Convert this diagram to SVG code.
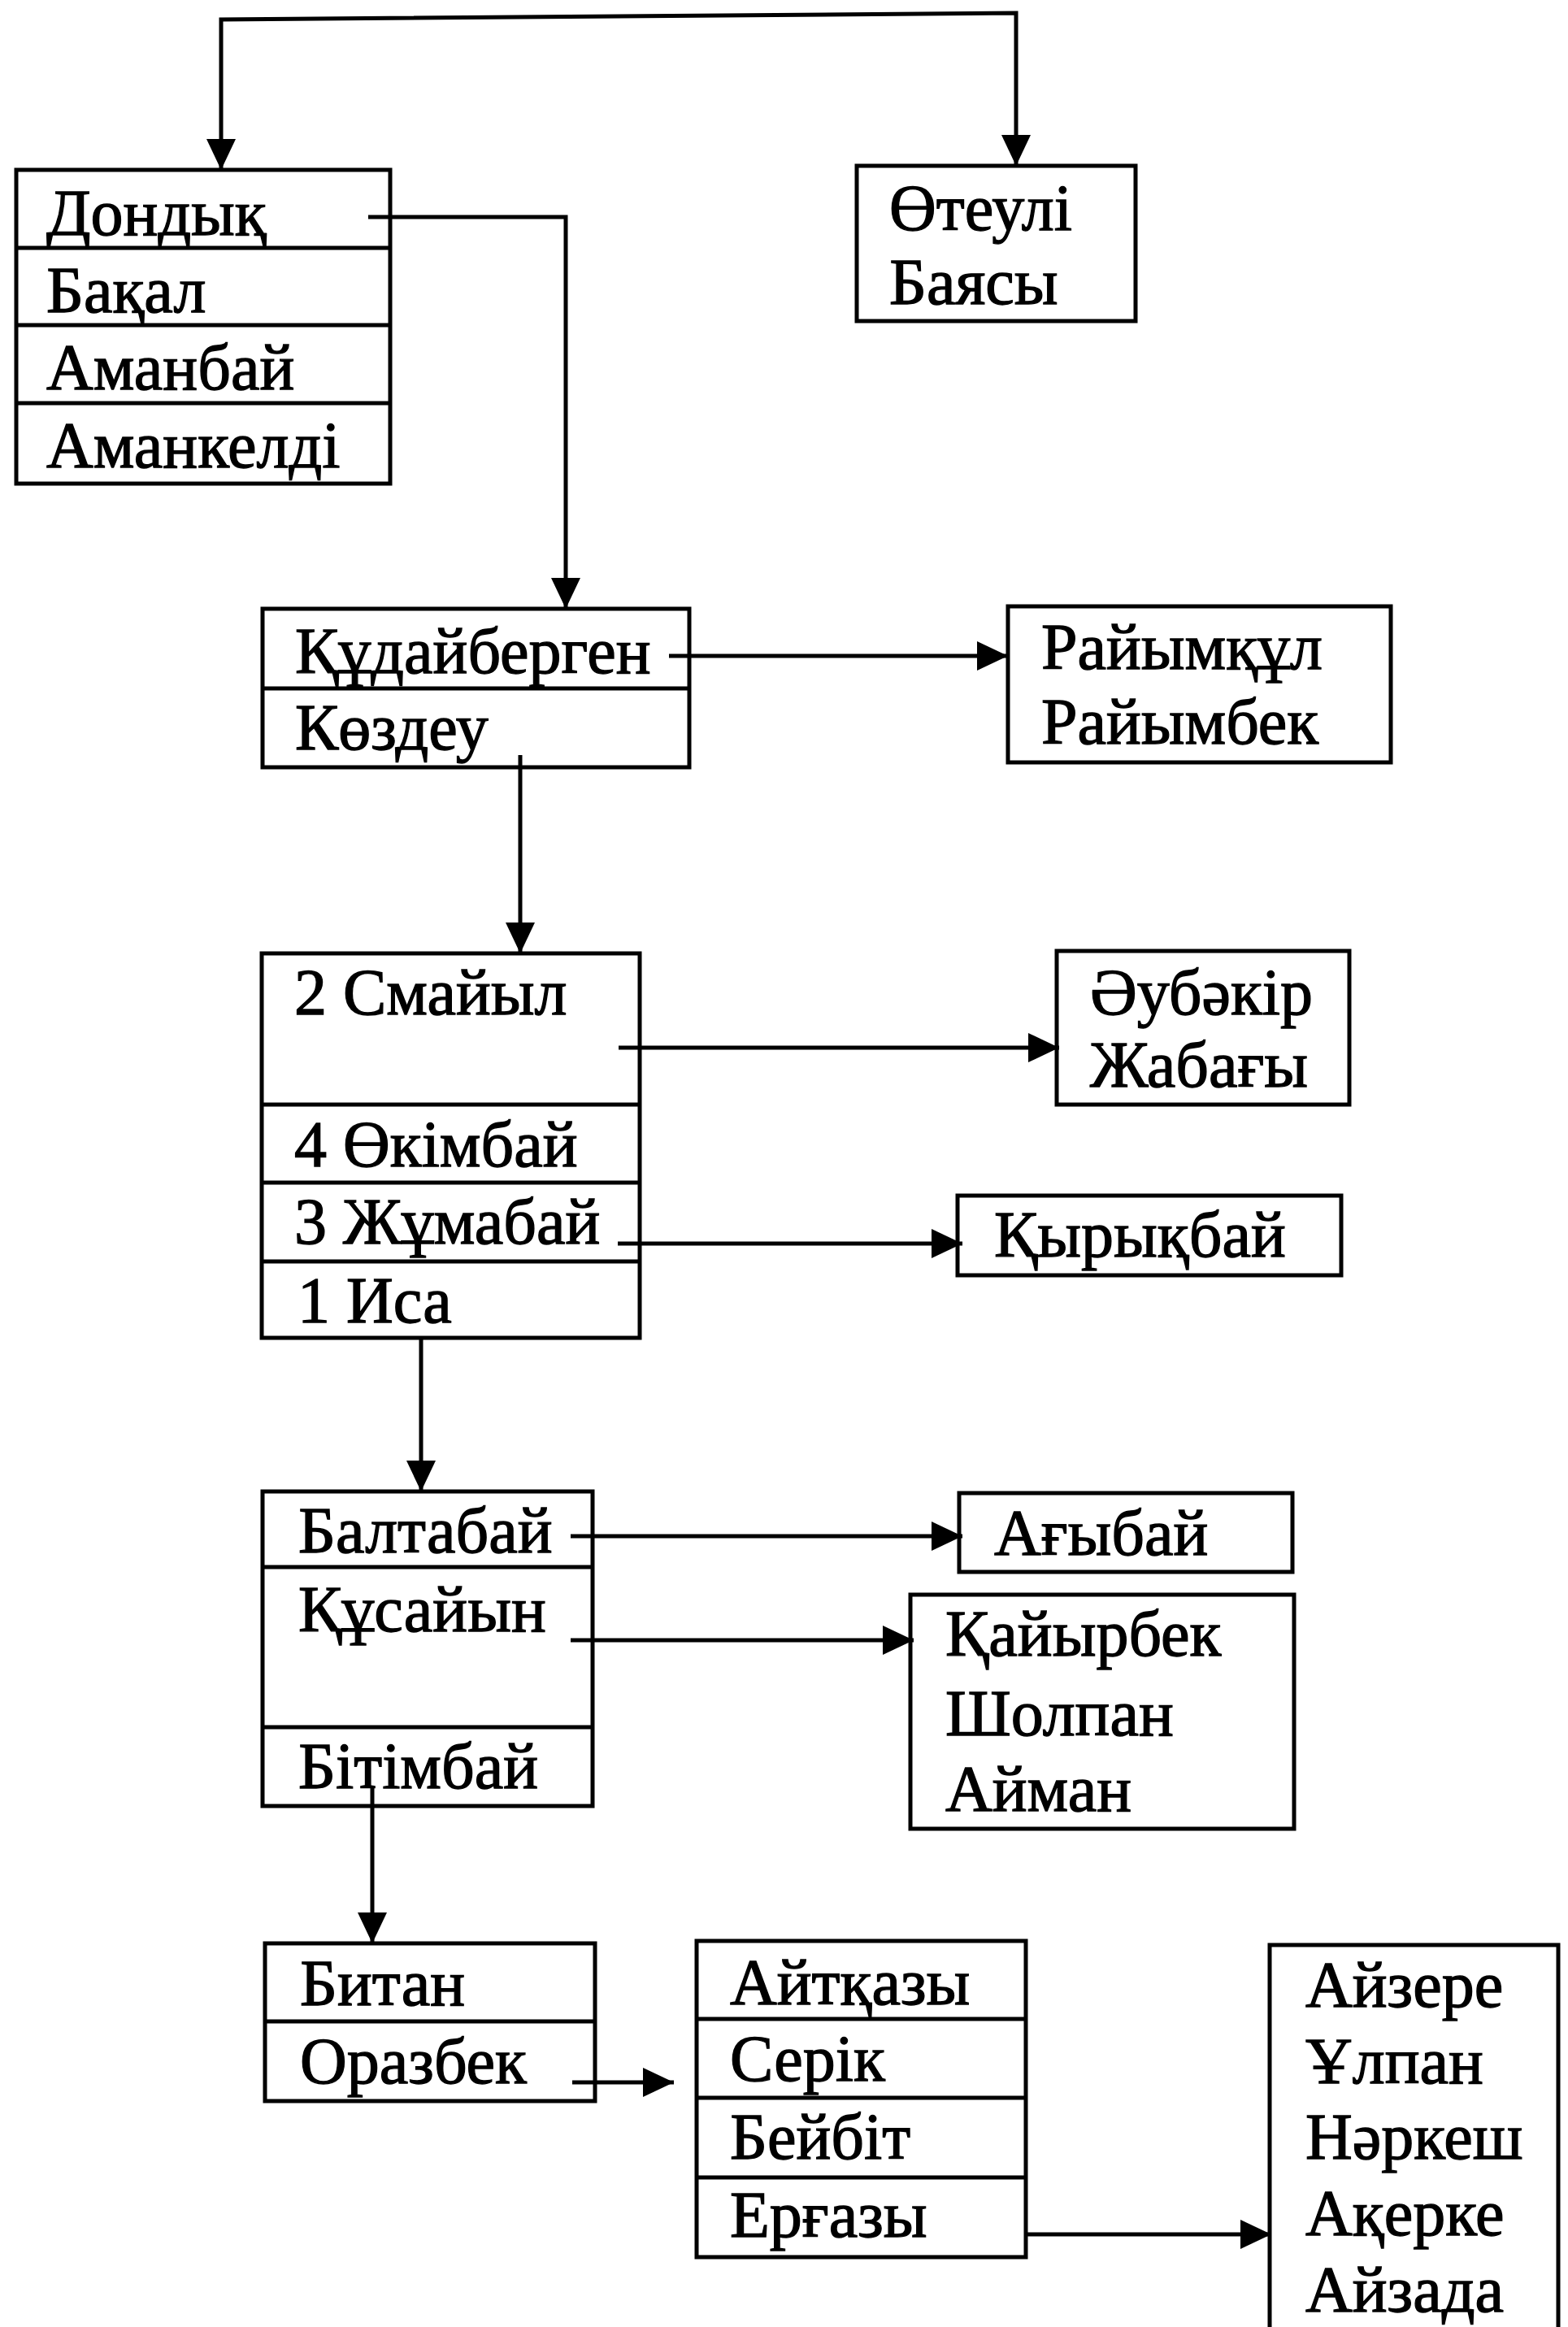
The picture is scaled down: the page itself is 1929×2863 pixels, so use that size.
<svg xmlns="http://www.w3.org/2000/svg" width="1929" height="2863" viewBox="0 0 1929 2863">
<style>
  .box { fill: none; stroke: #000; stroke-width: 5; }
  .div { stroke: #000; stroke-width: 5; }
  .t { font-family: "Liberation Serif", "Times New Roman", serif; font-size: 80px; fill: #000; stroke: #000; stroke-width: 1.3; }
  .c { fill: none; stroke: #000; stroke-width: 5; }
</style>
<defs>
  <marker id="ah" markerUnits="userSpaceOnUse" markerWidth="40" markerHeight="40" refX="38" refY="18" orient="auto-start-reverse" viewBox="0 0 40 40">
    <path d="M0,0 L38,18 L0,36 Z" fill="#000"/>
  </marker>
</defs>
<rect width="1929" height="2863" fill="#fff"/>

<g id="connectors">
  <path class="c" d="M272,209 L272,24 L1250,16 L1250,204" marker-start="url(#ah)" marker-end="url(#ah)"/>
  <path class="c" d="M453,267 L696,267 L696,749" marker-end="url(#ah)"/>
  <path class="c" d="M823,807 L1240,807" marker-end="url(#ah)"/>
  <path class="c" d="M640,929 L640,1173" marker-end="url(#ah)"/>
  <path class="c" d="M761,1289 L1303,1289" marker-end="url(#ah)"/>
  <path class="c" d="M760,1530 L1184,1530" marker-end="url(#ah)"/>
  <path class="c" d="M518,1646 L518,1835" marker-end="url(#ah)"/>
  <path class="c" d="M702,1890 L1184,1890" marker-end="url(#ah)"/>
  <path class="c" d="M702,2018 L1124,2018" marker-end="url(#ah)"/>
  <path class="c" d="M458,2200 L458,2391" marker-end="url(#ah)"/>
  <path class="c" d="M704,2562 L829,2562" marker-end="url(#ah)"/>
  <path class="c" d="M1262,2749 L1564,2749" marker-end="url(#ah)"/>
</g>

<g id="node-dondyq">
  <rect class="box" x="20" y="209" width="460" height="386"/>
  <line class="div" x1="20" y1="305" x2="480" y2="305"/>
  <line class="div" x1="20" y1="400" x2="480" y2="400"/>
  <line class="div" x1="20" y1="496" x2="480" y2="496"/>
  <text class="t" x="57" y="289">Дондық</text>
  <text class="t" x="57" y="384">Бақал</text>
  <text class="t" x="57" y="479">Аманбай</text>
  <text class="t" x="57" y="575">Аманкелді</text>
</g>

<g id="node-oteuli">
  <rect class="box" x="1054" y="204" width="343" height="191"/>
  <text class="t" x="1094" y="283">Өтеулі</text>
  <text class="t" x="1094" y="374">Баясы</text>
</g>

<g id="node-qudaibergen">
  <rect class="box" x="323" y="749" width="525" height="195"/>
  <line class="div" x1="323" y1="847" x2="848" y2="847"/>
  <text class="t" x="363" y="828">Құдайберген</text>
  <text class="t" x="363" y="922">Көздеу</text>
</g>

<g id="node-raiymqul">
  <rect class="box" x="1240" y="746" width="471" height="192"/>
  <text class="t" x="1281" y="823">Райымқұл</text>
  <text class="t" x="1281" y="915">Райымбек</text>
</g>

<g id="node-smaiyl">
  <rect class="box" x="322" y="1173" width="465" height="473"/>
  <line class="div" x1="322" y1="1359" x2="787" y2="1359"/>
  <line class="div" x1="322" y1="1455" x2="787" y2="1455"/>
  <line class="div" x1="322" y1="1552" x2="787" y2="1552"/>
  <text class="t" x="362" y="1248">2 Смайыл</text>
  <text class="t" x="362" y="1435">4 Өкімбай</text>
  <text class="t" x="362" y="1530">3 Жұмабай</text>
  <text class="t" x="366" y="1627">1 Иса</text>
</g>

<g id="node-aubakir">
  <rect class="box" x="1300" y="1170" width="360" height="189"/>
  <text class="t" x="1341" y="1248">Әубәкір</text>
  <text class="t" x="1341" y="1337">Жабағы</text>
</g>

<g id="node-qyryqbai">
  <rect class="box" x="1178" y="1471" width="472" height="98"/>
  <text class="t" x="1223" y="1546">Қырықбай</text>
</g>

<g id="node-baltabai">
  <rect class="box" x="323" y="1835" width="406" height="387"/>
  <line class="div" x1="323" y1="1928" x2="729" y2="1928"/>
  <line class="div" x1="323" y1="2125" x2="729" y2="2125"/>
  <text class="t" x="367" y="1910">Балтабай</text>
  <text class="t" x="367" y="2007">Құсайын</text>
  <text class="t" x="367" y="2200">Бітімбай</text>
</g>

<g id="node-agybai">
  <rect class="box" x="1180" y="1837" width="410" height="97"/>
  <text class="t" x="1223" y="1913">Ағыбай</text>
</g>

<g id="node-qaiyrbek">
  <rect class="box" x="1120" y="1962" width="472" height="288"/>
  <text class="t" x="1163" y="2037">Қайырбек</text>
  <text class="t" x="1163" y="2135">Шолпан</text>
  <text class="t" x="1163" y="2228">Айман</text>
</g>

<g id="node-bitan">
  <rect class="box" x="326" y="2391" width="406" height="194"/>
  <line class="div" x1="326" y1="2487" x2="732" y2="2487"/>
  <text class="t" x="369" y="2467">Битан</text>
  <text class="t" x="369" y="2563">Оразбек</text>
</g>

<g id="node-aitqazy">
  <rect class="box" x="857" y="2388" width="405" height="389"/>
  <line class="div" x1="857" y1="2484" x2="1262" y2="2484"/>
  <line class="div" x1="857" y1="2581" x2="1262" y2="2581"/>
  <line class="div" x1="857" y1="2679" x2="1262" y2="2679"/>
  <text class="t" x="898" y="2466">Айтқазы</text>
  <text class="t" x="898" y="2560">Серік</text>
  <text class="t" x="898" y="2656">Бейбіт</text>
  <text class="t" x="898" y="2752">Ерғазы</text>
</g>

<g id="node-aizere">
  <path class="box" d="M1562,2875 L1562,2393 L1917,2393 L1917,2875"/>
  <text class="t" x="1606" y="2469">Айзере</text>
  <text class="t" x="1606" y="2563">Ұлпан</text>
  <text class="t" x="1606" y="2656">Нәркеш</text>
  <text class="t" x="1606" y="2750">Ақерке</text>
  <text class="t" x="1606" y="2844">Айзада</text>
</g>
</svg>
